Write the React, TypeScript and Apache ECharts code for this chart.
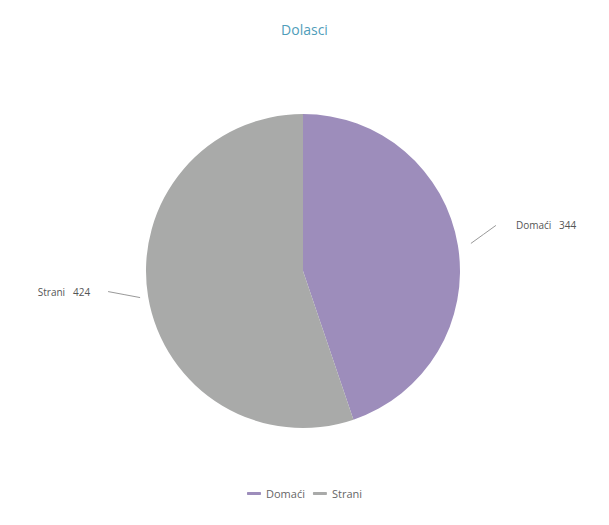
import React, { useEffect, useRef } from "react";
import * as echarts from "echarts";

const titleText = "Dolasci";
const categories = ["Domaći", "Strani"];
const values = [344, 424];
const colors = ["#9d8dbb", "#a9aaa9"];

const CX = 295;
const CY = 263;
const R = 157;

export default function App() {
  const ref = useRef<HTMLDivElement>(null);
  useEffect(() => {
    if (!ref.current) return;
    const chart = echarts.init(ref.current, null, { renderer: "svg" });
    const total = values.reduce((a, b) => a + b, 0);
    const midAngles: number[] = [];
    let acc = 0;
    values.forEach((v) => {
      midAngles.push(((acc + v / 2) / total) * Math.PI * 2);
      acc += v;
    });
    chart.setOption({
      animation: false,
      backgroundColor: "#ffffff",
      color: colors,
      title: {
        text: titleText,
        left: "center",
        top: 9,
        textStyle: {
          color: "#4f9dba",
          fontSize: 14,
          fontWeight: "normal",
          fontFamily: "Open Sans",
        },
      },
      legend: {
        bottom: 13,
        left: "center",
        icon: "roundRect",
        itemWidth: 14,
        itemHeight: 3,
        itemGap: 8,
        textStyle: { color: "#666", fontSize: 11, fontFamily: "Open Sans" },
        data: categories,
      },
      series: [
        {
          type: "pie",
          center: [CX, CY],
          radius: R,
          startAngle: 90,
          clockwise: true,
          data: categories.map((c, i) => ({ name: c, value: values[i] })),
          label: {
            formatter: "{b}   {c}",
            color: "#555",
            fontSize: 10,
            fontFamily: "Open Sans",
          },
          labelLine: {
            show: true,
            length: 20,
            length2: 6,
            lineStyle: { color: "#999", width: 1 },
          },
          labelLayout: (params: any) => {
            const a = midAngles[params.dataIndex];
            const ex = CX + R * Math.sin(a);
            const ey = CY - R * Math.cos(a);
            const right = Math.sin(a) >= 0;
            if (right) {
              const s = [ex + 13, ey - 2];
              const e = [s[0] + 25, s[1] - 18];
              return {
                x: e[0] + 20,
                y: e[1],
                align: "left",
                verticalAlign: "middle",
                labelLinePoints: [s, [(s[0] + e[0]) / 2, (s[1] + e[1]) / 2], e],
              };
            }
            const s = [ex - 8, ey + 1];
            const e = [s[0] - 32, s[1] - 6];
            return {
              x: e[0] - 18,
              y: e[1],
              align: "right",
              verticalAlign: "middle",
              labelLinePoints: [s, [(s[0] + e[0]) / 2, (s[1] + e[1]) / 2], e],
            };
          },
        },
      ],
    });
    return () => chart.dispose();
  }, []);
  return <div ref={ref} style={{ width: 593, height: 509 }} />;
}
